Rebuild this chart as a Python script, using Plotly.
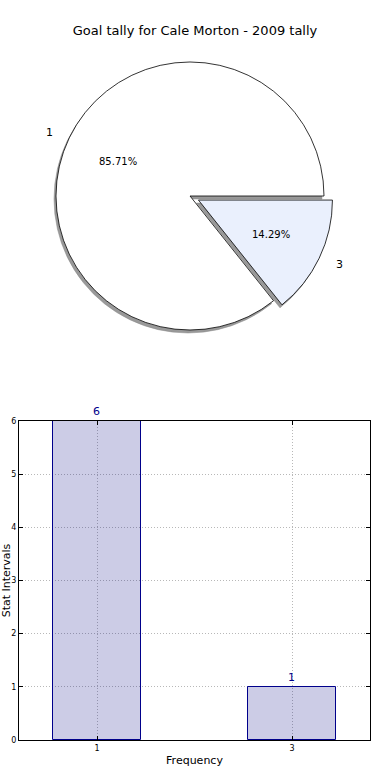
import math
import plotly.graph_objects as go

# ---- data ----
categories = ["1", "3"]
goal_counts = [6, 1]
pie_colors = ["#FFFFFF", "#EAF0FD"]
explode = [0.0, 0.07]
title_text = "Goal tally for Cale Morton - 2009 tally"
x_title = "Frequency"
y_title = "Stat Intervals"
y_ticks = [0, 1, 2, 3, 4, 5, 6]

W, H = 390, 780
FONT = "DejaVu Sans"

# pie geometry (pixels)
cx, cy, r = 190, 196, 134
maxpull = 1 + max(explode)
half = r * maxpull
total = sum(goal_counts)
# matplotlib-style: first slice starts at 3 o'clock, counterclockwise
rot = 90 - 360 * goal_counts[0] / total


def dom(cxp, cyp):
    return dict(x=[(cxp - half) / W, (cxp + half) / W],
                y=[1 - (cyp + half) / H, 1 - (cyp - half) / H])


fig = go.Figure()

# shadow pie
fig.add_trace(go.Pie(
    labels=categories, values=goal_counts, sort=False,
    direction="counterclockwise", rotation=rot, pull=explode,
    marker=dict(colors=["#999999", "#999999"], line=dict(color="#888888", width=0.5)),
    textinfo="none", hoverinfo="skip", showlegend=False,
    domain=dom(cx - 2, cy + 3),
))
# main pie
fig.add_trace(go.Pie(
    labels=categories, values=goal_counts, sort=False,
    direction="counterclockwise", rotation=rot, pull=explode,
    marker=dict(colors=pie_colors, line=dict(color="black", width=0.8)),
    textinfo="none", showlegend=False,
    domain=dom(cx, cy),
))

# labels & percentages placed like matplotlib (labeldistance 1.1, pctdistance 0.6)
start = 0.0
annotations = []
for lab, v, ex in zip(categories, goal_counts, explode):
    frac = v / total
    mid = math.radians((start + frac / 2) * 360)
    start += frac
    c, s = math.cos(mid), math.sin(mid)
    ox, oy = ex * r * c, ex * r * s
    px = cx + ox + 0.6 * r * c
    py = cy - oy - 0.6 * r * s
    annotations.append(dict(x=px / W, y=1 - py / H, xref="paper", yref="paper",
                            text=f"{frac*100:.2f}%", showarrow=False,
                            font=dict(family=FONT, size=10, color="black"),
                            xanchor="center", yanchor="middle"))
    lx = cx + ox + 1.12 * r * c
    ly = cy - oy - 1.1 * r * s
    annotations.append(dict(x=lx / W, y=1 - ly / H, xref="paper", yref="paper",
                            text=lab, showarrow=False,
                            font=dict(family=FONT, size=11, color="black"),
                            xanchor="right" if c < 0 else "left", yanchor="middle"))

# bar chart
fig.add_trace(go.Bar(
    x=categories, y=goal_counts, width=0.45,
    marker=dict(color="rgba(0,0,128,0.2)", line=dict(color="#00008B", width=1)),
    text=[str(v) for v in goal_counts], textposition="outside",
    textfont=dict(family=FONT, size=11, color="#00008B"),
    cliponaxis=False, showlegend=False, xaxis="x", yaxis="y",
))

axis_common = dict(showline=True, linecolor="black", linewidth=1, mirror="ticks",
                   ticks="inside", ticklen=4, tickcolor="black",
                   tickfont=dict(family=FONT, size=8, color="black"),
                   showgrid=True, gridcolor="#b8b8b8", griddash="1px,2px", gridwidth=1,
                   zeroline=False, automargin=False)

fig.update_layout(
    width=W, height=H,
    margin=dict(l=0, r=0, t=0, b=0),
    paper_bgcolor="white", plot_bgcolor="white",
    font=dict(family=FONT, color="black"),
    title=dict(text=title_text, x=0.5, xanchor="center", y=1 - 30 / H, yanchor="middle",
               yref="paper", font=dict(family=FONT, size=13, color="black")),
    xaxis=dict(domain=[19 / W, 370 / W], range=[-0.4, 1.4], type="category",
               title=dict(text=x_title, font=dict(family=FONT, size=11), standoff=4),
               anchor="y", **axis_common),
    yaxis=dict(domain=[1 - 740 / H, 1 - 421 / H], range=[0, 6], tickvals=y_ticks,
               title=dict(text=y_title, font=dict(family=FONT, size=11), standoff=0),
               anchor="x", **axis_common),
    annotations=annotations,
    bargap=0,
)

fig.write_html("out.html", config={"displayModeBar": False},
               post_script="document.body.style.margin='0px';")
